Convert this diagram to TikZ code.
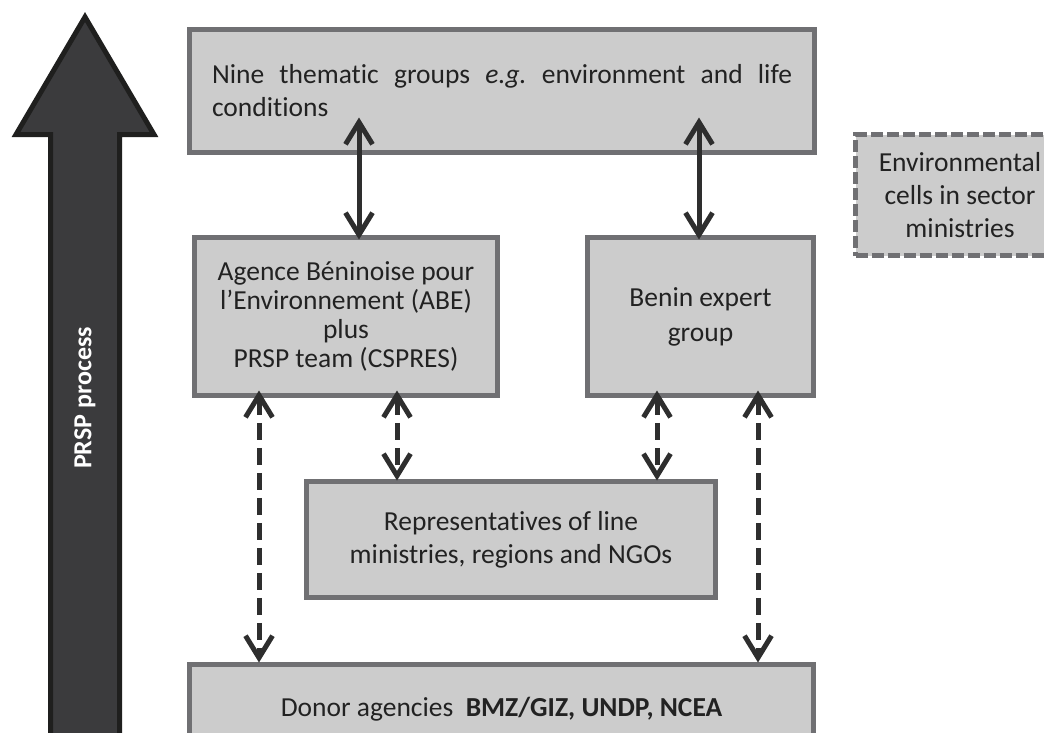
\documentclass[tikz,border=0pt]{standalone}
\usepackage{fontspec}
\setmainfont[Ligatures=NoCommon]{Carlito}
\usetikzlibrary{arrows.meta,calc}
\definecolor{boxfill}{HTML}{CCCCCC}
\definecolor{boxline}{HTML}{707073}
\definecolor{arrdark}{HTML}{2E2E2E}
\definecolor{bigfill}{HTML}{3B3B3D}
\definecolor{bigline}{HTML}{1F1F1E}
\definecolor{txt}{HTML}{222222}
\begin{document}
\hyphenpenalty=10000
\exhyphenpenalty=10000
\frenchspacing
\begin{tikzpicture}[x=1pt,y=-1pt,
  box/.style={draw=boxline, fill=boxfill, line width=5pt, inner sep=0pt,
    align=center, text=txt, font=\fontsize{27.5}{33}\selectfont},
  dashbox/.style={box, dash pattern=on 12pt off 4pt},
  link/.style={draw=arrdark, line width=5pt,
    {Straight Barb[length=22pt,width=27pt]}-{Straight Barb[length=22pt,width=27pt]}},
  dlink/.style={link, dash pattern=on 17pt off 8pt}]
\useasboundingbox (0,0) rectangle (1044,732);
\clip (0,0) rectangle (1044,732);
% big process arrow
\draw[bigline, fill=bigfill, line width=5pt, line join=miter]
  (85,17) -- (154,134.5) -- (119.5,134.5) -- (119.5,760) -- (50.5,760)
  -- (50.5,134.5) -- (16,134.5) -- cycle;
\node[rotate=90, text=white, font=\bfseries\fontsize{26}{30}\selectfont] (prsp) at (85,398) {PRSP process};
% boxes
\node[box, minimum width=625pt, minimum height=123pt, text width=580pt, align=justify] (top) at (502,91)
  {Nine thematic groups \textit{e.g.} environment and life conditions};
\node[dashbox, minimum width=209pt, minimum height=121pt] (env) at (960,195)
  {Environmental\\cells in sector\\ministries};
\node[box, minimum width=303pt, minimum height=158pt, font=\fontsize{27.5}{29}\selectfont] (abe) at (346,316.5)
  {Agence Béninoise pour\\l’Environnement (ABE)\\plus\\PRSP team (CSPRES)};
\node[box, minimum width=226pt, minimum height=158pt, font=\fontsize{27.5}{35}\selectfont] (benin) at (700.5,316.5)
  {Benin expert\\group};
\node[box, minimum width=409pt, minimum height=116pt] (rep) at (511,539.5)
  {Representatives of line\\ministries, regions and NGOs};
\node[box, minimum width=624pt, minimum height=89pt] (donor) at (501.5,709)
  {Donor agencies\ \ \textbf{BMZ/GIZ, UNDP, NCEA}};
% x positions of connectors
\coordinate (xa) at (359,0);
\coordinate (xb) at (699,0);
\coordinate (xc) at (259,0);
\coordinate (xd) at (397,0);
\coordinate (xe) at (657,0);
\coordinate (xf) at (758,0);
% solid connectors
\draw[link] ($(top.south -| xa)+(0,-37.5)$) -- ($(abe.north -| xa)+(0,4.5)$);
\draw[link] ($(top.south -| xb)+(0,-37.5)$) -- ($(benin.north -| xb)+(0,4.5)$);
% dashed connectors
\draw[dlink] ($(abe.south -| xc)+(0,-7.5)$) -- ($(donor.north -| xc)+(0,0.5)$);
\draw[dlink] ($(abe.south -| xd)+(0,-7.5)$) -- ($(rep.north -| xd)+(0,1.5)$);
\draw[dlink] ($(benin.south -| xe)+(0,-7.5)$) -- ($(rep.north -| xe)+(0,1.5)$);
\draw[dlink] ($(benin.south -| xf)+(0,-7.5)$) -- ($(donor.north -| xf)+(0,0.5)$);
\end{tikzpicture}
\end{document}
